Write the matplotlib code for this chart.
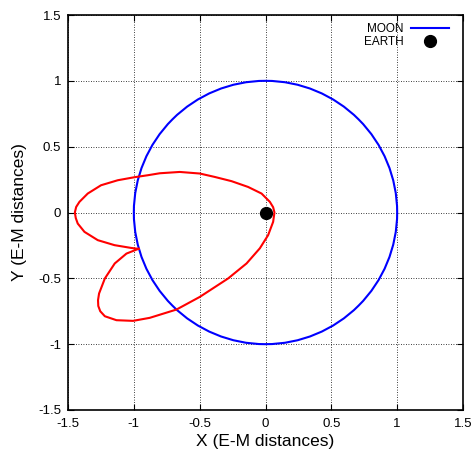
import matplotlib
matplotlib.use("Agg")
import matplotlib.pyplot as plt
from matplotlib.patches import Circle
from matplotlib.lines import Line2D

plt.rcParams['font.family'] = ['Liberation Sans', 'DejaVu Sans']

# red trajectory (E-M distances)
traj_x = [-0.965, -1.021, -1.147, -1.274, -1.375, -1.426, -1.441, -1.448, -1.438, -1.413,
          -1.350, -1.249, -1.122, -0.995, -0.894, -0.803, -0.651, -0.499, -0.385, -0.258,
          -0.132, -0.030, 0.033, 0.058, 0.068, 0.058, 0.020, -0.043, -0.144, -0.284,
          -0.499, -0.676, -0.879, -1.006, -1.132, -1.220, -1.255, -1.270, -1.272, -1.264,
          -1.220, -1.145, -1.056, -0.965]
traj_y = [-0.276, -0.269, -0.248, -0.210, -0.147, -0.084, -0.042, 0.000, 0.042, 0.081,
          0.144, 0.207, 0.245, 0.268, 0.283, 0.298, 0.308, 0.296, 0.270, 0.238,
          0.194, 0.144, 0.081, 0.040, 0.000, -0.071, -0.172, -0.272, -0.387, -0.501,
          -0.641, -0.737, -0.800, -0.823, -0.818, -0.788, -0.750, -0.710, -0.666, -0.615,
          -0.501, -0.387, -0.312, -0.276]

moon_radius = 1.0
earth_x = [0.0]
earth_y = [0.0]

ticks = [-1.5, -1, -0.5, 0, 0.5, 1, 1.5]
tick_labels = ["-1.5", "-1", "-0.5", "0", "0.5", "1", "1.5"]

fig = plt.figure(figsize=(4.74, 4.49), dpi=100)
ax = fig.add_axes([68/474, 1 - 410/449, 395/474, 395/449])

ax.plot(traj_x, traj_y, color="red", lw=1.5, zorder=3, solid_joinstyle="round")
ax.add_patch(Circle((0, 0), moon_radius, fill=False, color="blue", lw=1.5, zorder=2))
ax.plot(earth_x, earth_y, "o", color="black", ms=8.5, zorder=4)

ax.set_xlim(-1.5, 1.5)
ax.set_ylim(-1.5, 1.5)
ax.set_xticks(ticks)
ax.set_xticklabels(tick_labels)
ax.set_yticks(ticks)
ax.set_yticklabels(tick_labels)
ax.tick_params(direction="in", top=True, right=True, labelsize=9.5, length=4, width=0.8)
ax.tick_params(axis="x", pad=6)
ax.tick_params(axis="y", pad=5)
ax.grid(True, color="black", linestyle=(0, (1, 2)), linewidth=0.6)
for s in ax.spines.values():
    s.set_linewidth(1.2)

ax.set_xlabel("X (E-M distances)", fontsize=12.5, labelpad=2.5)
ax.set_ylabel("Y (E-M distances)", fontsize=12.5, labelpad=8)

handles = [Line2D([], [], color="blue", lw=1.5),
           Line2D([], [], color="black", marker="o", ms=8.5, lw=0)]
leg = ax.legend(handles, ["MOON", "EARTH"], loc="upper right", markerfirst=False,
                frameon=False, fontsize=8.5, handlelength=3.2, handletextpad=0.6,
                labelspacing=0.1, borderaxespad=0.8, bbox_to_anchor=(1, 1 + 6/395))
for t in leg.get_texts():
    t.set_ha("right")

fig.savefig("out.png", dpi=100)
